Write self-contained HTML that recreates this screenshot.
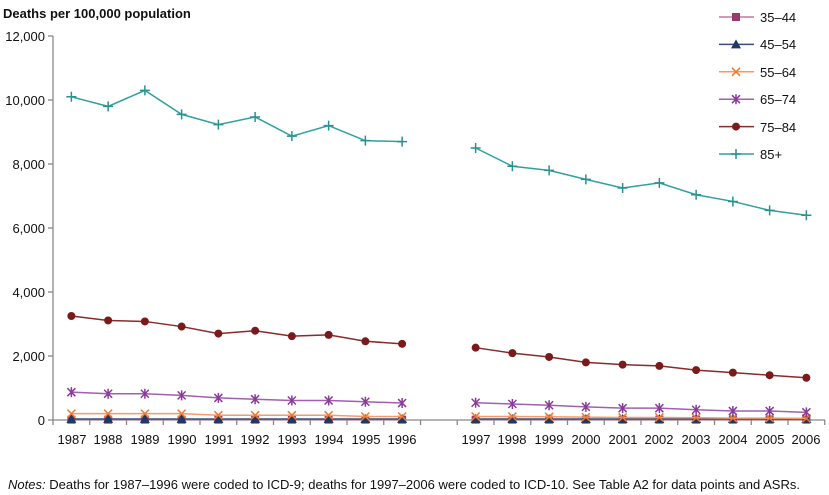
<!DOCTYPE html>
<html><head><meta charset="utf-8"><style>
body{margin:0;background:#fff;}
svg{display:block;font-family:"Liberation Sans",Arial,sans-serif;}
</style></head><body>
<svg id="c" width="829" height="495" viewBox="0 0 829 495" xmlns="http://www.w3.org/2000/svg">
<text x="3" y="18" font-size="13" font-weight="bold" fill="#111">Deaths per 100,000 population</text>
<g font-size="13" fill="#111" text-anchor="end">
<text x="45" y="41">12,000</text>
<text x="45" y="105">10,000</text>
<text x="45" y="169">8,000</text>
<text x="45" y="233">6,000</text>
<text x="45" y="297">4,000</text>
<text x="45" y="361">2,000</text>
<text x="45" y="425">0</text>
</g>
<g font-size="13" fill="#111" text-anchor="middle">
<text x="72" y="444">1987</text><text x="108" y="444">1988</text><text x="145" y="444">1989</text><text x="182" y="444">1990</text><text x="219" y="444">1991</text><text x="255" y="444">1992</text><text x="292" y="444">1993</text><text x="329" y="444">1994</text><text x="366" y="444">1995</text><text x="402" y="444">1996</text>
<text x="476" y="444">1997</text><text x="512" y="444">1998</text><text x="549" y="444">1999</text><text x="586" y="444">2000</text><text x="623" y="444">2001</text><text x="659" y="444">2002</text><text x="696" y="444">2003</text><text x="733" y="444">2004</text><text x="770" y="444">2005</text><text x="806" y="444">2006</text>
</g>
<text x="8" y="489" font-size="13" textLength="792" lengthAdjust="spacingAndGlyphs" fill="#111"><tspan font-style="italic">Notes:</tspan> Deaths for 1987–1996 were coded to ICD-9; deaths for 1997–2006 were coded to ICD-10. See Table A2 for data points and ASRs.</text>
<g font-size="13" fill="#111">
<text x="760" y="22">35–44</text>
<text x="760" y="49">45–54</text>
<text x="760" y="77">55–64</text>
<text x="760" y="104">65–74</text>
<text x="760" y="132">75–84</text>
<text x="760" y="159">85+</text>
</g>
<g id="axes" stroke="#888" stroke-width="1.3"></g>
<g id="series"></g>
<g id="legend"></g>
</svg>
<script>
var ns="http://www.w3.org/2000/svg";
function el(p,t,a){var e=document.createElementNS(ns,t);for(var k in a)e.setAttribute(k,a[k]);p.appendChild(e);return e;}
var ax=document.getElementById('axes'),sg=document.getElementById('series'),lg=document.getElementById('legend');
el(ax,'line',{x1:53,y1:36,x2:53,y2:420});
for(var v=0;v<=12;v+=2){var y=420-v*32;el(ax,'line',{x1:48,y1:y,x2:53,y2:y});}
el(ax,'line',{x1:53,y1:420,x2:825,y2:420});
for(var i=0;i<=21;i++){var x=53+36.75*i;el(ax,'line',{x1:x,y1:420,x2:x,y2:425});}
function X(i){return 53+36.75*(i+0.5);}
function Y(v){return 420-v*0.032;}
var S=[
{c:'#9b3a6a',lc:'#c07a9a',m:'sq',a:[10,10,10,10,10,10,10,10,10,10],b:[10,10,10,10,10,10,10,10,10,10]},
{c:'#1f3864',lc:'#3a4e78',m:'tri',a:[30,30,30,30,30,30,30,30,30,30],b:[30,30,30,30,30,30,30,30,30,30]},
{c:'#f07a30',lc:'#f59a6a',m:'x',a:[200,200,200,200,150,150,150,150,110,110],b:[110,110,100,90,80,80,70,60,60,50]},
{c:'#8a3a9a',lc:'#a060b0',m:'ast',a:[870,820,820,770,690,650,610,610,570,530],b:[540,500,460,410,370,370,320,280,280,240]},
{c:'#7a1a1a',lc:'#8a2a2a',m:'dot',a:[3250,3110,3080,2920,2700,2790,2620,2660,2460,2380],b:[2260,2090,1970,1800,1730,1690,1560,1480,1400,1320]},
{c:'#2a9090',lc:'#30a0a0',m:'plus',a:[10100,9800,10300,9550,9230,9470,8870,9200,8730,8700],b:[8500,7930,7800,7520,7250,7410,7040,6830,6550,6400]}
];
function mk(g,t,x,y,c){
 if(t=='sq')el(g,'rect',{x:x-4,y:y-4,width:8,height:8,fill:c});
 else if(t=='tri')el(g,'polygon',{points:(x)+','+(y-5)+' '+(x-5)+','+(y+4)+' '+(x+5)+','+(y+4),fill:c});
 else if(t=='x'){el(g,'path',{d:'M'+(x-4)+' '+(y-4)+'L'+(x+4)+' '+(y+4)+'M'+(x-4)+' '+(y+4)+'L'+(x+4)+' '+(y-4),stroke:c,'stroke-width':1.5});}
 else if(t=='ast'){el(g,'path',{d:'M'+(x-4)+' '+(y-4)+'L'+(x+4)+' '+(y+4)+'M'+(x-4)+' '+(y+4)+'L'+(x+4)+' '+(y-4)+'M'+x+' '+(y-5)+'L'+x+' '+(y+5),stroke:c,'stroke-width':1.5});}
 else if(t=='dot')el(g,'circle',{cx:x,cy:y,r:4,fill:c});
 else if(t=='plus'){el(g,'path',{d:'M'+(x-5)+' '+y+'L'+(x+5)+' '+y+'M'+x+' '+(y-5)+'L'+x+' '+(y+5),stroke:c,'stroke-width':1.5});}
}
S.forEach(function(s,k){
 [[s.a,0],[s.b,11]].forEach(function(p){
  var pts=p[0].map(function(v,i){return X(i+p[1])+','+Y(v);}).join(' ');
  el(sg,'polyline',{points:pts,fill:'none',stroke:s.lc,'stroke-width':1.5});
  p[0].forEach(function(v,i){mk(sg,s.m,X(i+p[1]),Y(v),s.c);});
 });
 var ly=17+k*27.4;
 el(lg,'line',{x1:719,y1:ly,x2:754,y2:ly,stroke:s.lc,'stroke-width':1.5});
 mk(lg,s.m,736,ly,s.c);
});
</script>
</body></html>
